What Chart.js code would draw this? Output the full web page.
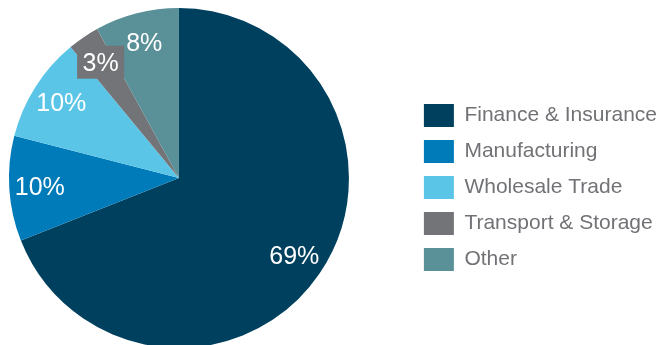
<!DOCTYPE html>
<html>
<head>
<meta charset="utf-8">
<script src="https://cdn.jsdelivr.net/npm/chart.js@4.4.1/dist/chart.umd.min.js"></script>
<style>
  html, body { margin: 0; padding: 0; background: #fff; overflow: hidden; }
  #wrap { width: 664px; height: 345px; overflow: hidden; position: relative; }
  #pie { position: absolute; left: -53px; top: 0; }
</style>
</head>
<body>
<div id="wrap"><canvas id="pie" width="730" height="348"></canvas></div>
<script>
const sectors = ["Finance & Insurance", "Manufacturing", "Wholesale Trade", "Transport & Storage", "Other"];
const shares = [69, 10, 10, 3, 8];
const sliceColors = ["#00405f", "#007bba", "#5bc5e7", "#737477", "#5a9199"];

// percent labels drawn inside each slice
const sliceLabels = {
    id: "sliceLabels",
    afterDatasetsDraw(chart) {
        const ctx = chart.ctx;
        const meta = chart.getDatasetMeta(0);
        ctx.save();
        ctx.font = "25px 'Liberation Sans', Arial, sans-serif";
        ctx.textAlign = "center";
        ctx.textBaseline = "middle";
        meta.data.forEach((arc, i) => {
            const p = arc.getProps(["x", "y", "startAngle", "endAngle", "outerRadius"], true);
            const mid = (p.startAngle + p.endAngle) / 2;
            const r = p.outerRadius * 0.82;
            const x = p.x + Math.cos(mid) * r;
            const y = p.y + Math.sin(mid) * r;
            const txt = shares[i] + "%";
            if (shares[i] < 5) {
                // small slice gets a box so the label reads
                ctx.fillStyle = sliceColors[i];
                ctx.fillRect(x - 23.5, y - 17, 47, 33);
            }
            ctx.fillStyle = "#ffffff";
            ctx.fillText(txt, x, y + 1);
        });
        ctx.restore();
    }
};

new Chart(document.getElementById("pie"), {
    type: "pie",
    data: {
        labels: sectors,
        datasets: [{
            data: shares,
            backgroundColor: sliceColors,
            borderWidth: 0,
            radius: 170
        }]
    },
    options: {
        responsive: false,
        animation: false,
        events: [],
        layout: {
            padding: { left: 0, right: 10, top: 8, bottom: 0 }
        },
        plugins: {
            tooltip: { enabled: false },
            legend: {
                position: "right",
                align: "center",
                title: {
                    display: true,
                    text: " ",
                    padding: 0,
                    font: { size: 19, lineHeight: 1 }
                },
                labels: {
                    boxWidth: 30,
                    boxHeight: 23,
                    padding: 13,
                    color: "#717275",
                    font: { family: "'Liberation Sans', Arial, sans-serif", size: 21 }
                }
            }
        }
    },
    plugins: [sliceLabels]
});
</script>
</body>
</html>
